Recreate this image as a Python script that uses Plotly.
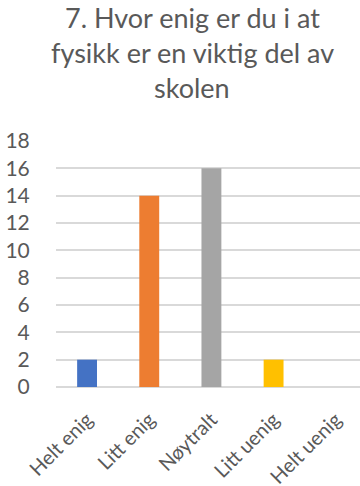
import plotly.graph_objects as go

# Survey answers: "How much do you agree that physics is an important part of school"
categories = ["Helt enig", "Litt enig", "Nøytralt", "Litt uenig", "Helt uenig"]
counts = [2, 14, 16, 2, 0]
bar_colors = ["#4472C4", "#ED7D31", "#A5A5A5", "#FFC000", "#5B9BD5"]
y_ticks = [0, 2, 4, 6, 8, 10, 12, 14, 16, 18]

title_lines = ["7. Hvor enig er du i at", "fysikk er en viktig del av", "skolen"]

FONT = "Lato"
TEXT_GRAY = "#595959"
GRID_GRAY = "#D9D9D9"

W, H = 360, 486
M_L, M_R, M_T, M_B = 56, 0, 141, 99
PLOT_H = H - M_T - M_B

fig = go.Figure(
    go.Bar(
        x=categories,
        y=counts,
        marker=dict(color=bar_colors, line=dict(width=0)),
        width=0.32,
    )
)

fig.update_layout(
    width=W,
    height=H,
    margin=dict(l=M_L, r=M_R, t=M_T, b=M_B, autoexpand=False),
    paper_bgcolor="white",
    plot_bgcolor="white",
    showlegend=False,
)

# Three-line title, one annotation per line for even line spacing
title_center = (192 - M_L) / (W - M_L - M_R)
for i, line in enumerate(title_lines):
    baseline_px = 29 + 35 * i
    fig.add_annotation(
        text=line,
        xref="paper",
        yref="paper",
        x=title_center,
        y=(H - M_B - baseline_px - 7) / PLOT_H,
        xanchor="center",
        yanchor="bottom",
        showarrow=False,
        font=dict(family=FONT, size=27, color=TEXT_GRAY),
    )

fig.update_xaxes(
    type="category",
    range=[-0.5, 4.39],
    automargin=False,
    showgrid=False,
    showline=False,
    zeroline=False,
    tickangle=-45,
    ticks="outside",
    ticklen=12,
    tickcolor="rgba(0,0,0,0)",
    tickfont=dict(family=FONT, size=20, color=TEXT_GRAY),
)

fig.update_yaxes(
    range=[0, 18],
    tickvals=y_ticks,
    automargin=False,
    showgrid=True,
    gridcolor=GRID_GRAY,
    gridwidth=1.5,
    zeroline=True,
    zerolinecolor=GRID_GRAY,
    zerolinewidth=1.5,
    showline=False,
    ticks="outside",
    ticklen=21,
    tickcolor="rgba(0,0,0,0)",
    tickfont=dict(family=FONT, size=21, color=TEXT_GRAY),
)

fig.write_html("out.html")
